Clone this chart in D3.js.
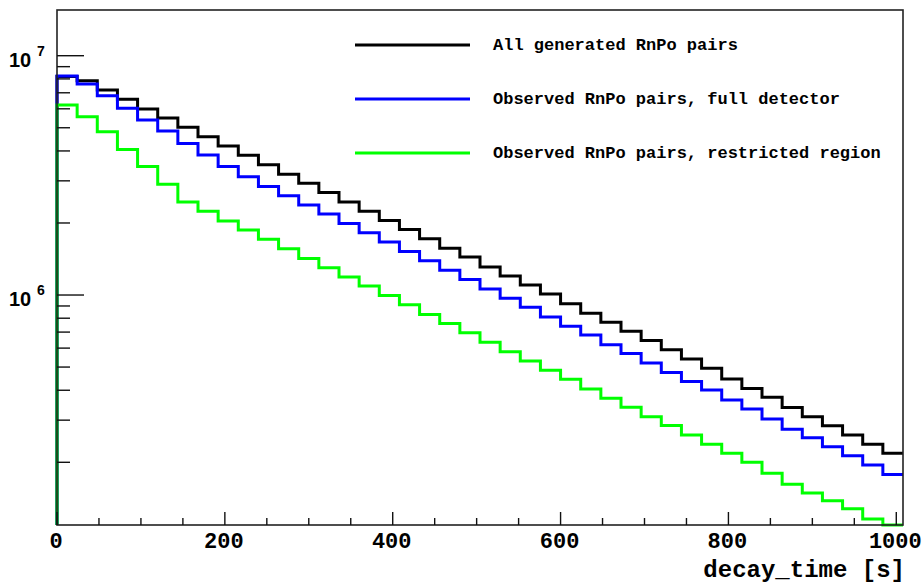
<!DOCTYPE html>
<html>
<head>
<meta charset="utf-8">
<script src="https://cdn.jsdelivr.net/npm/d3@7"></script>
<style>
  html, body { margin: 0; padding: 0; background: #fff; }
  svg { display: block; }
</style>
</head>
<body>
<svg id="chart" width="924" height="583"></svg>
<script>
// Histogram binning: 42 bins of 24 s starting at 0
const binWidth = 24;
const binCount = 42;

// Entries per bin
const allGenerated = [
  8.19e6, 7.86e6, 7.19e6, 6.57e6, 5.99e6, 5.49e6, 5.02e6, 4.59e6, 4.19e6, 3.84e6,
  3.50e6, 3.20e6, 2.93e6, 2.68e6, 2.45e6, 2.24e6, 2.05e6, 1.88e6, 1.72e6, 1.57e6,
  1.44e6, 1.31e6, 1.20e6, 1.10e6, 1.01e6, 9.2e5, 8.4e5, 7.7e5, 7.05e5, 6.45e5,
  5.9e5, 5.4e5, 4.94e5, 4.46e5, 4.07e5, 3.74e5, 3.39e5, 3.10e5, 2.84e5, 2.60e5,
  2.38e5, 2.18e5
];
const observedFull = [
  8.23e6, 7.62e6, 6.81e6, 6.03e6, 5.39e6, 4.85e6, 4.30e6, 3.85e6, 3.44e6, 3.12e6,
  2.84e6, 2.60e6, 2.38e6, 2.18e6, 1.99e6, 1.82e6, 1.665e6, 1.52e6, 1.39e6, 1.27e6,
  1.16e6, 1.06e6, 9.7e5, 8.9e5, 8.1e5, 7.4e5, 6.8e5, 6.2e5, 5.7e5, 5.2e5,
  4.75e5, 4.35e5, 4.01e5, 3.64e5, 3.34e5, 3.03e5, 2.75e5, 2.53e5, 2.32e5, 2.13e5,
  1.95e5, 1.78e5
];
const observedRestricted = [
  6.22e6, 5.56e6, 4.81e6, 4.06e6, 3.44e6, 2.90e6, 2.45e6, 2.24e6, 2.04e6, 1.87e6,
  1.71e6, 1.56e6, 1.42e6, 1.30e6, 1.19e6, 1.09e6, 9.95e5, 9.1e5, 8.3e5, 7.6e5,
  6.95e5, 6.35e5, 5.8e5, 5.3e5, 4.85e5, 4.45e5, 4.05e5, 3.7e5, 3.4e5, 3.1e5,
  2.85e5, 2.6e5, 2.38e5, 2.18e5, 2.00e5, 1.80e5, 1.62e5, 1.49e5, 1.38e5, 1.28e5,
  1.16e5, 1.08e5
];

const seriesNames = [
  "All generated RnPo pairs",
  "Observed RnPo pairs, full detector",
  "Observed RnPo pairs, restricted region"
];
const seriesColors = ["#000000", "#0000ff", "#00ff00"];
const seriesData = [allGenerated, observedFull, observedRestricted];

const xTickValues = [0, 200, 400, 600, 800, 1000];
const xMinorTickValues = d3.range(0, 1001, 50);
const yMajorTickValues = [1e6, 1e7];
const yMinorTickValues = [2e5, 3e5, 4e5, 5e5, 6e5, 7e5, 8e5, 9e5,
                          2e6, 3e6, 4e6, 5e6, 6e6, 7e6, 8e6, 9e6];
const xTitle = "decay_time [s]";

// Frame geometry
const frame = { left: 57, right: 903, top: 10, bottom: 525 };
const svg = d3.select("#chart");

const x = d3.scaleLinear()
  .domain([0, binWidth * binCount])
  .range([frame.left, frame.right]);

const y = d3.scaleLog()
  .domain([Math.pow(10, 5.039), Math.pow(10, 7.191)])
  .range([frame.bottom, frame.top])
  .clamp(true);

// Step outline of a histogram, rising from the bottom of the frame
function histPath(values) {
  const p = d3.path();
  p.moveTo(x(0), frame.bottom);
  values.forEach((v, i) => {
    const x0 = x(i * binWidth), x1 = x((i + 1) * binWidth);
    p.lineTo(x0, y(v));
    p.lineTo(x1, y(v));
  });
  return p.toString();
}

svg.append("clipPath").attr("id", "clip")
  .append("rect")
  .attr("x", frame.left - 2).attr("y", frame.top)
  .attr("width", frame.right - frame.left + 4)
  .attr("height", frame.bottom - frame.top + 2);

const hists = svg.append("g").attr("clip-path", "url(#clip)");
seriesData.forEach((vals, k) => {
  hists.append("path")
    .attr("d", histPath(vals))
    .attr("fill", "none")
    .attr("stroke", seriesColors[k])
    .attr("stroke-width", 3)
    .attr("stroke-linejoin", "miter");
});

// Frame
svg.append("rect")
  .attr("x", frame.left).attr("y", frame.top)
  .attr("width", frame.right - frame.left)
  .attr("height", frame.bottom - frame.top)
  .attr("fill", "none")
  .attr("stroke", "#222")
  .attr("stroke-width", 1.6);

// X axis ticks (pointing into the frame)
const xAxisG = svg.append("g");
xAxisG.selectAll("line.minor")
  .data(xMinorTickValues.filter(v => !xTickValues.includes(v)))
  .join("line")
  .attr("x1", d => x(d)).attr("x2", d => x(d))
  .attr("y1", frame.bottom).attr("y2", frame.bottom - 7)
  .attr("stroke", "#111").attr("stroke-width", 1.4);
xAxisG.selectAll("line.major")
  .data(xTickValues)
  .join("line")
  .attr("x1", d => x(d)).attr("x2", d => x(d))
  .attr("y1", frame.bottom).attr("y2", frame.bottom - 13)
  .attr("stroke", "#111").attr("stroke-width", 1.4);
svg.append("g").selectAll("text")
  .data(xTickValues)
  .join("text")
  .attr("x", d => x(d) - 1)
  .attr("y", frame.bottom + 23)
  .attr("text-anchor", "middle")
  .attr("font-family", "'Liberation Mono', 'Courier New', monospace")
  .attr("font-weight", "bold")
  .attr("font-size", 22)
  .attr("fill", "#000")
  .text(d => d);

svg.append("text")
  .attr("x", 905)
  .attr("y", 577)
  .attr("text-anchor", "end")
  .attr("font-family", "'Liberation Mono', 'Courier New', monospace")
  .attr("font-weight", "bold")
  .attr("font-size", 24)
  .attr("fill", "#000")
  .text(xTitle);

// Y axis ticks (log scale)
const yAxisG = svg.append("g");
yAxisG.selectAll("line.minor")
  .data(yMinorTickValues)
  .join("line")
  .attr("x1", frame.left).attr("x2", frame.left + 13)
  .attr("y1", d => y(d)).attr("y2", d => y(d))
  .attr("stroke", "#111").attr("stroke-width", 1.4);
yAxisG.selectAll("line.major")
  .data(yMajorTickValues)
  .join("line")
  .attr("x1", frame.left).attr("x2", frame.left + 27)
  .attr("y1", d => y(d)).attr("y2", d => y(d))
  .attr("stroke", "#111").attr("stroke-width", 1.4);

const yLabels = svg.append("g")
  .attr("font-family", "'Liberation Sans', Arial, sans-serif")
  .attr("font-weight", "bold")
  .attr("fill", "#000");
yMajorTickValues.forEach(v => {
  const ty = y(v);
  yLabels.append("text")
    .attr("x", 9).attr("y", ty + 11)
    .attr("font-size", 20)
    .text("10");
  yLabels.append("text")
    .attr("x", 37).attr("y", ty)
    .attr("font-size", 14)
    .text(String(Math.round(Math.log10(v))));
});

// Legend
const legend = svg.append("g");
const legendRows = [45, 99, 153];
seriesNames.forEach((name, k) => {
  legend.append("line")
    .attr("x1", 355).attr("x2", 470)
    .attr("y1", legendRows[k]).attr("y2", legendRows[k])
    .attr("stroke", seriesColors[k])
    .attr("stroke-width", 3);
  legend.append("text")
    .attr("x", 493).attr("y", legendRows[k] + 5)
    .attr("font-family", "'Liberation Mono', 'Courier New', monospace")
    .attr("font-weight", "bold")
    .attr("font-size", 17)
    .attr("fill", "#000")
    .text(name);
});
</script>
</body>
</html>
